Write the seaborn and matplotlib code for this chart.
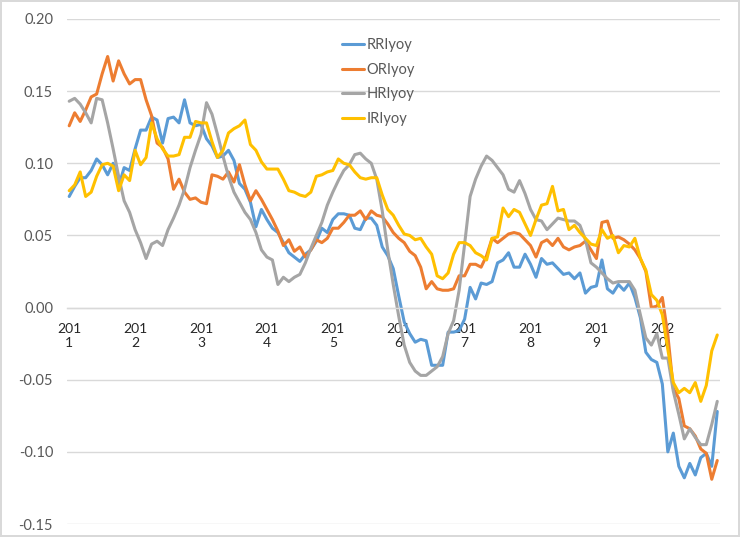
import pandas as pd
import matplotlib
matplotlib.use("Agg")
import matplotlib.pyplot as plt
import seaborn as sns

# monthly yoy series, 2011-01 .. 2020-11
rri = [0.077, 0.084, 0.090, 0.090, 0.095, 0.103, 0.099, 0.092, 0.100, 0.084, 0.097, 0.095,
       0.110, 0.123, 0.123, 0.132, 0.130, 0.114, 0.131, 0.132, 0.128, 0.144, 0.128, 0.126,
       0.127, 0.117, 0.112, 0.104, 0.105, 0.109, 0.102, 0.086, 0.082, 0.073, 0.056, 0.068,
       0.061, 0.055, 0.052, 0.045, 0.038, 0.035, 0.032, 0.037, 0.040, 0.046, 0.055, 0.052,
       0.061, 0.065, 0.065, 0.064, 0.055, 0.054, 0.062, 0.062, 0.057, 0.042, 0.036, 0.027,
       0.008, -0.010, -0.018, -0.024, -0.022, -0.023, -0.040, -0.040, -0.040, -0.017, -0.017, -0.016,
       -0.008, 0.014, 0.006, 0.017, 0.016, 0.018, 0.031, 0.033, 0.038, 0.028, 0.028, 0.037,
       0.030, 0.021, 0.034, 0.030, 0.031, 0.027, 0.023, 0.024, 0.020, 0.024, 0.010, 0.014,
       0.015, 0.033, 0.013, 0.010, 0.016, 0.012, 0.017, 0.007, -0.007, -0.031, -0.036, -0.038,
       -0.053, -0.100, -0.087, -0.110, -0.118, -0.108, -0.116, -0.104, -0.101, -0.110, -0.072]

ori = [0.126, 0.135, 0.129, 0.137, 0.146, 0.148, 0.162, 0.174, 0.157, 0.171, 0.162, 0.155,
       0.158, 0.158, 0.144, 0.133, 0.114, 0.111, 0.103, 0.082, 0.089, 0.080, 0.075, 0.076,
       0.073, 0.072, 0.092, 0.091, 0.089, 0.094, 0.087, 0.099, 0.085, 0.074, 0.081, 0.075,
       0.068, 0.061, 0.053, 0.043, 0.047, 0.039, 0.042, 0.035, 0.040, 0.047, 0.045, 0.048,
       0.055, 0.055, 0.059, 0.064, 0.064, 0.067, 0.061, 0.067, 0.064, 0.063, 0.058, 0.052,
       0.048, 0.045, 0.039, 0.036, 0.028, 0.013, 0.018, 0.013, 0.012, 0.012, 0.013, 0.022,
       0.022, 0.030, 0.030, 0.028, 0.036, 0.048, 0.045, 0.048, 0.051, 0.052, 0.051, 0.047,
       0.043, 0.035, 0.045, 0.047, 0.043, 0.048, 0.042, 0.040, 0.042, 0.043, 0.046, 0.040,
       0.034, 0.059, 0.060, 0.048, 0.049, 0.047, 0.044, 0.040, 0.034, 0.025, 0.000, 0.001,
       0.007, -0.019, -0.056, -0.063, -0.082, -0.084, -0.089, -0.098, -0.101, -0.119, -0.106]

hri = [0.143, 0.145, 0.141, 0.135, 0.128, 0.145, 0.144, 0.128, 0.110, 0.091, 0.074, 0.066,
       0.054, 0.045, 0.034, 0.044, 0.046, 0.043, 0.054, 0.062, 0.071, 0.082, 0.097, 0.109,
       0.120, 0.142, 0.134, 0.120, 0.105, 0.091, 0.080, 0.073, 0.066, 0.061, 0.052, 0.040,
       0.035, 0.033, 0.016, 0.021, 0.018, 0.021, 0.023, 0.031, 0.041, 0.050, 0.059, 0.071,
       0.080, 0.088, 0.095, 0.099, 0.106, 0.107, 0.103, 0.100, 0.089, 0.067, 0.040, 0.016,
       -0.006, -0.026, -0.038, -0.044, -0.047, -0.047, -0.044, -0.041, -0.034, -0.018, -0.009, 0.012,
       0.044, 0.077, 0.089, 0.098, 0.105, 0.102, 0.097, 0.092, 0.082, 0.080, 0.088, 0.079,
       0.068, 0.061, 0.060, 0.054, 0.058, 0.062, 0.061, 0.060, 0.060, 0.057, 0.047, 0.031,
       0.028, 0.024, 0.020, 0.017, 0.018, 0.018, 0.018, 0.012, -0.005, -0.021, -0.026, -0.018,
       -0.035, -0.035, -0.058, -0.074, -0.091, -0.084, -0.090, -0.095, -0.095, -0.081, -0.065]

iri = [0.081, 0.085, 0.094, 0.077, 0.080, 0.091, 0.099, 0.100, 0.098, 0.081, 0.092, 0.088,
       0.109, 0.099, 0.104, 0.128, 0.117, 0.110, 0.105, 0.105, 0.106, 0.118, 0.118, 0.129,
       0.128, 0.128, 0.115, 0.104, 0.109, 0.121, 0.124, 0.126, 0.130, 0.113, 0.109, 0.101,
       0.096, 0.096, 0.096, 0.089, 0.081, 0.080, 0.078, 0.077, 0.080, 0.091, 0.092, 0.094,
       0.095, 0.103, 0.100, 0.099, 0.094, 0.090, 0.089, 0.090, 0.090, 0.078, 0.068, 0.064,
       0.057, 0.051, 0.050, 0.047, 0.048, 0.042, 0.037, 0.022, 0.020, 0.024, 0.037, 0.045,
       0.045, 0.043, 0.038, 0.036, 0.033, 0.048, 0.049, 0.069, 0.063, 0.068, 0.066, 0.058,
       0.050, 0.061, 0.071, 0.072, 0.084, 0.067, 0.068, 0.054, 0.057, 0.052, 0.048, 0.044,
       0.043, 0.054, 0.048, 0.050, 0.038, 0.043, 0.042, 0.048, 0.034, 0.026, 0.009, 0.005,
       -0.005, -0.029, -0.052, -0.059, -0.056, -0.059, -0.052, -0.065, -0.054, -0.030, -0.019]

series_names = ['RRIyoy', 'ORIyoy', 'HRIyoy', 'IRIyoy']
year_labels = ['201\n1', '201\n2', '201\n3', '201\n4', '201\n5',
               '201\n6', '201\n7', '201\n8', '201\n9', '202\n0']
y_ticks = [-0.15, -0.10, -0.05, 0.00, 0.05, 0.10, 0.15, 0.20]

colors = ['#5B9BD5', '#ED7D31', '#A5A5A5', '#FFC000']
grey_text = '#595959'
grid_col = '#D9D9D9'

frames = []
for name, vals in zip(series_names, [rri, ori, hri, iri]):
    frames.append(pd.DataFrame({'month': range(len(vals)), 'value': vals, 'series': name}))
df = pd.concat(frames, ignore_index=True)

sns.set_style('white')
plt.rcParams['font.family'] = ['Lato', 'DejaVu Sans']

fig = plt.figure(figsize=(7.4, 5.37), dpi=100)
fig.patch.set_edgecolor('#D9D9D9')
fig.patch.set_linewidth(1.5)
ax = fig.add_axes([67 / 740, 1 - 524 / 537, (720 - 67) / 740, (524 - 19) / 537])

sns.lineplot(data=df, x='month', y='value', hue='series', hue_order=series_names,
             palette=colors, linewidth=2.2, ax=ax)

ax.set_xlim(-0.4, 118.5)
ax.set_ylim(-0.15, 0.20)
ax.set_yticks(y_ticks)
ax.set_yticklabels([f'{t:.2f}' for t in y_ticks], color=grey_text, fontsize=10.5)
ax.yaxis.grid(True, color=grid_col, linewidth=1)
ax.set_axisbelow(True)

ax.set_xticks(range(0, 120, 12))
ax.set_xticklabels(year_labels, color=grey_text, fontsize=10.5, linespacing=1.45)
ax.tick_params(axis='x', length=0, pad=11)
ax.tick_params(axis='y', length=0, pad=10)

for s in ['top', 'right', 'left']:
    ax.spines[s].set_visible(False)
ax.spines['bottom'].set_position(('data', 0))
ax.spines['bottom'].set_color(grid_col)
ax.spines['bottom'].set_linewidth(1)

ax.set_xlabel('')
ax.set_ylabel('')

handles, labels = ax.get_legend_handles_labels()
ax.legend(handles, labels, loc='upper left', bbox_to_anchor=(329 / 740, 1 - 25 / 537),
          bbox_transform=fig.transFigure, frameon=False, fontsize=10.5,
          handlelength=1.5, handletextpad=0.15, labelspacing=0.72, labelcolor=grey_text)

fig.savefig('out.png', dpi=100)
